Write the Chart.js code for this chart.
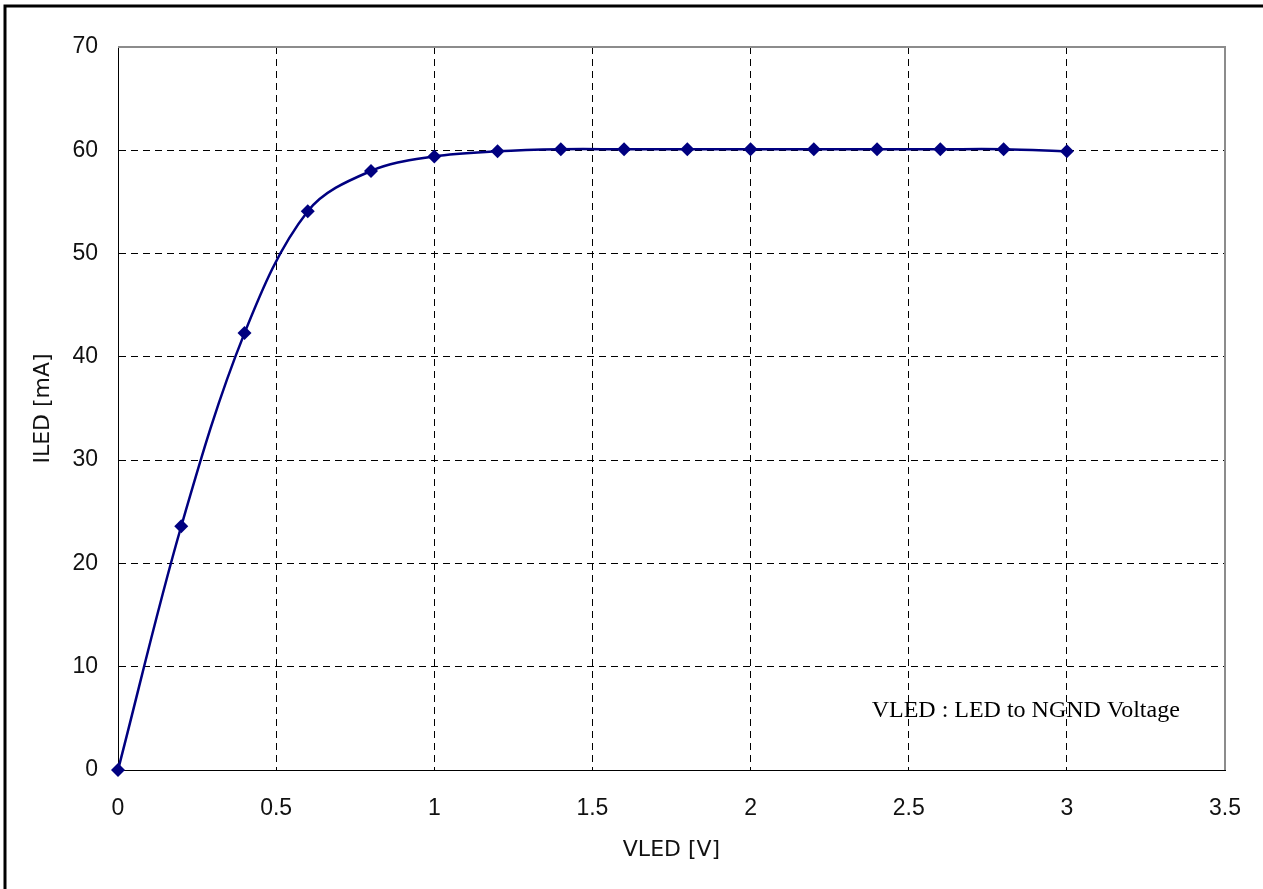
<!DOCTYPE html>
<html>
<head>
<meta charset="utf-8">
<title>ILED vs VLED</title>
<script src="https://cdn.jsdelivr.net/npm/chart.js@4/dist/chart.umd.min.js"></script>
<style>
    html, body { margin: 0; padding: 0; background: #fff; }
    #wrap { width: 1263px; height: 889px; position: relative; }
</style>
</head>
<body>
<div id="wrap"><canvas id="ivChart" width="1263" height="889"></canvas></div>
<script>
// Measured points (VLED in volts, ILED in mA)
const vled = [0, 0.2, 0.4, 0.6, 0.8, 1.0, 1.2, 1.4, 1.6, 1.8, 2.0, 2.2, 2.4, 2.6, 2.8, 3.0];
const iled = [0, 23.6, 42.3, 54.1, 58.0, 59.4, 59.9, 60.1, 60.1, 60.1, 60.1, 60.1, 60.1, 60.1, 60.1, 59.9];

const xTicks = [0, 0.5, 1, 1.5, 2, 2.5, 3, 3.5];
const yTicks = [0, 10, 20, 30, 40, 50, 60, 70];

const xTitle = 'VLED [V]';
const yTitle = 'ILED [mA]';
const noteText = 'VLED : LED to NGND Voltage';
const notePos = [2.87, 5.7];

const TICK_FONT = { family: 'Liberation Sans', size: 23 };
const TITLE_FONT = { family: 'DejaVu Sans', size: 22 };

// Frame: gray top/right edges of the plot, black outer border of the figure
const framePlugin = {
    id: 'frame',
    beforeDatasetsDraw(chart) {
        const { ctx, chartArea: a } = chart;
        ctx.save();
        ctx.strokeStyle = '#8c8c8c';
        ctx.lineWidth = 2;
        ctx.beginPath();
        ctx.moveTo(a.left, a.top);
        ctx.lineTo(a.right, a.top);
        ctx.lineTo(a.right, a.bottom);
        ctx.stroke();
        ctx.restore();
    },
    afterDraw(chart) {
        const { ctx, width, height } = chart;
        ctx.save();
        ctx.strokeStyle = '#000';
        ctx.lineWidth = 3;
        ctx.strokeRect(5, 6, width + 10, height + 10);

        // note text, placed in data coordinates
        const x = chart.scales.x.getPixelForValue(notePos[0]);
        const y = chart.scales.y.getPixelForValue(notePos[1]);
        ctx.fillStyle = '#000';
        ctx.font = '24px "Liberation Serif"';
        ctx.textAlign = 'center';
        ctx.textBaseline = 'middle';
        ctx.fillText(noteText, x, y);
        ctx.restore();
    }
};

const ctx = document.getElementById('ivChart').getContext('2d');
new Chart(ctx, {
    type: 'line',
    data: {
        datasets: [{
            data: vled.map((v, i) => ({ x: v, y: iled[i] })),
            borderColor: '#000080',
            backgroundColor: '#000080',
            borderWidth: 2.5,
            tension: 0.35,
            pointStyle: 'rectRot',
            pointRadius: 7,
            pointBorderWidth: 0,
            fill: false,
            clip: false
        }]
    },
    options: {
        responsive: false,
        animation: false,
        layout: { padding: { top: 47, right: 38, left: 0, bottom: 0 } },
        plugins: {
            legend: { display: false },
            tooltip: { enabled: false }
        },
        scales: {
            x: {
                type: 'linear',
                min: 0,
                max: 3.5,
                afterBuildTicks: s => { s.ticks = xTicks.map(v => ({ value: v })); },
                afterFit: s => { s.height = 119; s.paddingRight = 0; s.paddingLeft = 0; },
                ticks: { font: TICK_FONT, color: '#111', padding: 25, callback: v => String(v) },
                grid: { color: '#000', lineWidth: 1, drawTicks: false },
                border: { display: true, color: '#000', width: 1, dash: [7, 5] },
                title: { display: true, text: xTitle, font: TITLE_FONT, color: '#111', padding: { bottom: 26, top: 0 } }
            },
            y: {
                min: 0,
                max: 70,
                afterBuildTicks: s => { s.ticks = yTicks.map(v => ({ value: v })); },
                afterFit: s => { s.width = 118; s.paddingTop = 0; s.paddingBottom = 0; },
                ticks: { font: TICK_FONT, color: '#111', padding: 20 },
                grid: { color: '#000', lineWidth: 1, drawTicks: false },
                border: { display: true, color: '#000', width: 1, dash: [7, 5] },
                title: { display: true, text: yTitle, font: TITLE_FONT, color: '#111', padding: { top: 30, bottom: 0 } }
            }
        }
    },
    plugins: [framePlugin]
});
</script>
</body>
</html>
